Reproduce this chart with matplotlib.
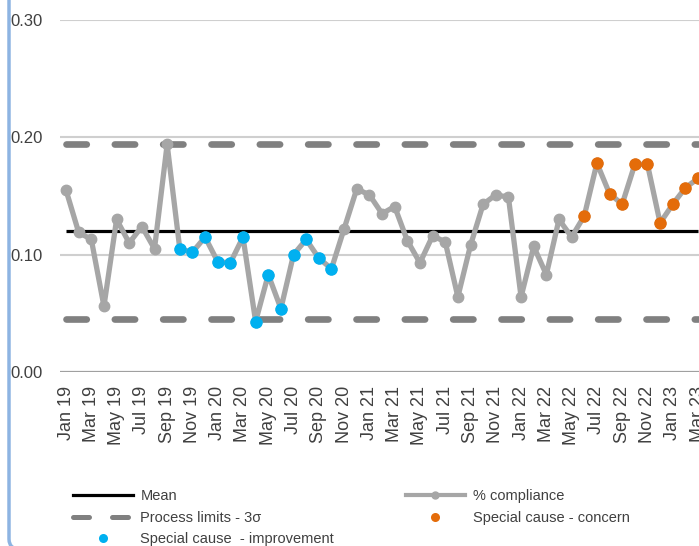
import matplotlib
matplotlib.use("Agg")
import matplotlib.pyplot as plt
from matplotlib.lines import Line2D
from matplotlib.patches import FancyBboxPatch

# ---- data -------------------------------------------------------------
month_names = ["Jan", "Feb", "Mar", "Apr", "May", "Jun",
               "Jul", "Aug", "Sep", "Oct", "Nov", "Dec"]
months = [f"{m} {y}" for y in range(19, 24) for m in month_names][:51]  # Jan 19 .. Mar 23

compliance = [0.155, 0.119, 0.113, 0.056, 0.130, 0.110, 0.124, 0.105, 0.194, 0.105,
              0.102, 0.115, 0.094, 0.093, 0.115, 0.043, 0.083, 0.054, 0.100, 0.113,
              0.097, 0.088, 0.122, 0.156, 0.151, 0.135, 0.141, 0.112, 0.093, 0.116,
              0.111, 0.064, 0.108, 0.143, 0.151, 0.149, 0.064, 0.107, 0.083, 0.130,
              0.115, 0.133, 0.178, 0.152, 0.143, 0.177, 0.177, 0.127, 0.143, 0.157,
              0.165]

improvement_months = ["Oct 19", "Nov 19", "Dec 19", "Jan 20", "Feb 20", "Mar 20",
                      "Apr 20", "May 20", "Jun 20", "Jul 20", "Aug 20", "Sep 20",
                      "Oct 20"]
concern_months = ["Jun 22", "Jul 22", "Aug 22", "Sep 22", "Oct 22", "Nov 22",
                  "Dec 22", "Jan 23", "Feb 23", "Mar 23"]

mean_value = 0.120
upper_limit = 0.194
lower_limit = 0.045

y_ticks = [0.00, 0.10, 0.20, 0.30]
y_tick_labels = ["0.00", "0.10", "0.20", "0.30"]

# ---- style ------------------------------------------------------------
font = "Liberation Sans"
text_color = "#404040"

# ---- figure -----------------------------------------------------------
fig = plt.figure(figsize=(6.99, 5.46), dpi=100)
W, H = 699, 546
px = 12.64  # width of one month category in pixels
left_px, top_px, bottom_px = 59.7, 20, 372
n_cat = 52
ax = fig.add_axes([left_px / W, 1 - bottom_px / H,
                   n_cat * px / W, (bottom_px - top_px) / H])

x = list(range(len(months)))
ax.set_xlim(-0.5, n_cat - 0.5)
ax.set_ylim(0, 0.30)

# gridlines
for yv in y_ticks[1:]:
    ax.axhline(yv, color="#cfcfcf", lw=1.5, zorder=0)
ax.axhline(0, color="#a0a0a0", lw=1.6, zorder=1)

# mean and control limits
ax.plot(x, [mean_value] * len(x), color="black", lw=2.3, zorder=2, solid_capstyle="butt")
for lim in (upper_limit, lower_limit):
    ln, = ax.plot(x, [lim] * len(x), color="#808080", lw=4.8, zorder=2,
                  dash_capstyle="round")
    ln.set_dashes((14.6 / 4.8, 20.2 / 4.8))

# series
ax.plot(x, compliance, color="#a6a6a6", lw=3.8, marker="o", ms=7.5,
        mfc="#a6a6a6", mec="#a6a6a6", zorder=3)
imp_x = [months.index(m) for m in improvement_months]
con_x = [months.index(m) for m in concern_months]
ax.plot(imp_x, [compliance[i] for i in imp_x], ls="none", marker="o", ms=9,
        color="#00b0f0", mec="none", zorder=4)
ax.plot(con_x, [compliance[i] for i in con_x], ls="none", marker="o", ms=9,
        color="#e46c0a", mec="none", zorder=4)

for s in ax.spines.values():
    s.set_visible(False)

ax.set_yticks(y_ticks)
ax.set_yticklabels(y_tick_labels, fontfamily=font, fontsize=12, color=text_color)
ax.set_xticks(x[::2])
ax.set_xticklabels(months[::2], rotation=90, fontfamily=font,
                   fontsize=13, color=text_color)
ax.tick_params(axis="both", length=0)
ax.tick_params(axis="y", pad=12)
ax.tick_params(axis="x", pad=10)

# legend
handles = [
    Line2D([], [], color="black", lw=2.3),
    Line2D([], [], color="#808080", lw=3.6, dashes=(3.2, 4.6), dash_capstyle="round"),
    Line2D([], [], ls="none", marker="o", ms=6.5, color="#00b0f0", mec="none"),
    Line2D([], [], color="#a6a6a6", lw=3.0, marker="o", ms=5, mfc="#a6a6a6", mec="#a6a6a6"),
    Line2D([], [], ls="none", marker="o", ms=6.5, color="#e46c0a", mec="none"),
]
labels = ["Mean", "Process limits - 3\u03c3", "Special cause  - improvement",
          "% compliance", "Special cause - concern"]
fig.legend(handles, labels, ncol=2, loc="upper left",
           bbox_to_anchor=(66 / W, 1 - 482 / H), frameon=False, borderpad=0,
           handlelength=4.1, handletextpad=0.5, columnspacing=4.9,
           labelspacing=0.52, numpoints=1,
           prop={"family": font, "size": 10.5}, labelcolor=text_color)

# chart area border
border = FancyBboxPatch((9 / W, -4 / H), 2.0, 1.2,
                        boxstyle="round,pad=0,rounding_size=0.02",
                        transform=fig.transFigure, fill=False,
                        ec="#8db4e2", lw=2.5, zorder=10)
fig.patches.append(border)

fig.savefig("out.png", dpi=100)
